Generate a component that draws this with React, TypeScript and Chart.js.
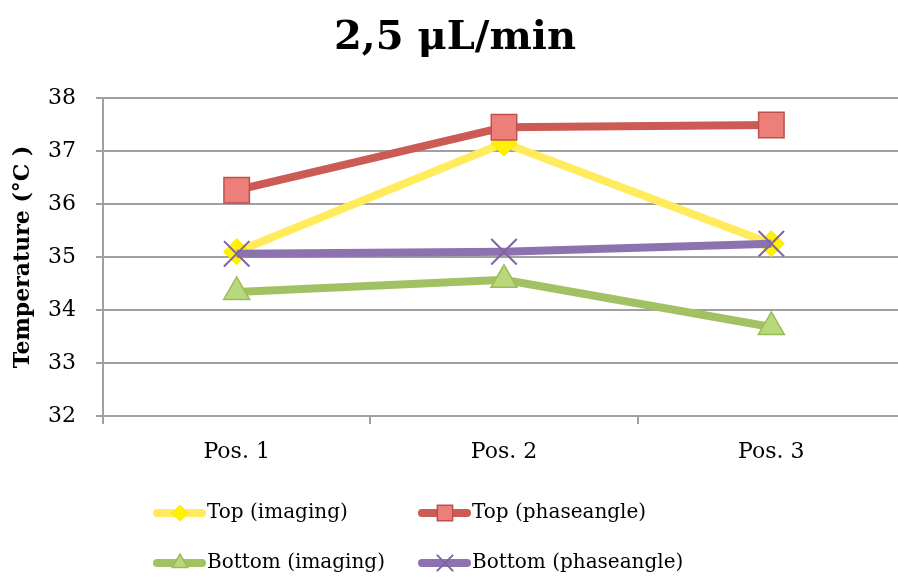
import React, { useEffect, useRef } from "react";
import { Chart, registerables } from "chart.js";
import { drawPoint } from "chart.js/helpers";

Chart.register(...registerables);

const chartTitle = "2,5 μL/min";
const yAxisTitle = "Temperature (°C )";
const categories = ["Pos. 1", "Pos. 2", "Pos. 3"];
const seriesNames = ["Top (imaging)", "Top (phaseangle)", "Bottom (imaging)", "Bottom (phaseangle)"];
const topImaging = [35.1, 37.15, 35.25];
const topPhaseangle = [36.26, 37.45, 37.49];
const bottomImaging = [34.34, 34.57, 33.68];
const bottomPhaseangle = [35.06, 35.1, 35.25];
const yMin = 32;
const yMax = 38;
const yStep = 1;

const FONT = "'DejaVu Serif', serif";

const titlePlugin = {
  id: "customTitle",
  afterDraw(chart: any) {
    const ctx = chart.ctx;
    ctx.save();
    ctx.font = `bold 40px ${FONT}`;
    ctx.fillStyle = "#000";
    ctx.textAlign = "center";
    ctx.textBaseline = "middle";
    ctx.fillText(chartTitle, 455, 39);
    ctx.restore();
  },
};

const legendPlugin = {
  id: "customLegend",
  afterDraw(chart: any) {
    const ctx = chart.ctx;
    const cols = [153, 418];
    const rows = [513, 563];
    chart.data.datasets.forEach((ds: any, i: number) => {
      const x = cols[i % 2];
      const y = rows[Math.floor(i / 2)];
      ctx.save();
      ctx.strokeStyle = ds.borderColor;
      ctx.lineWidth = 8;
      ctx.lineCap = "round";
      ctx.beginPath();
      ctx.moveTo(x + 4, y);
      ctx.lineTo(x + 49, y);
      ctx.stroke();
      ctx.fillStyle = ds.pointBackgroundColor;
      ctx.strokeStyle = ds.pointBorderColor;
      ctx.lineWidth = ds.pointBorderWidth;
      drawPoint(ctx, { pointStyle: ds.pointStyle, rotation: 0, radius: ds.pointRadius * 0.6, borderWidth: ds.pointBorderWidth }, x + 27, y);
      ctx.font = `20px ${FONT}`;
      ctx.fillStyle = "#000";
      ctx.textAlign = "left";
      ctx.textBaseline = "middle";
      ctx.fillText(ds.label, x + 54, y);
      ctx.restore();
    });
  },
};

export default function App() {
  const ref = useRef<HTMLCanvasElement | null>(null);
  useEffect(() => {
    if (!ref.current) return;
    const chart = new Chart(ref.current, {
      type: "line",
      data: {
        labels: categories,
        datasets: [
          {
            label: seriesNames[0],
            data: topImaging,
            borderColor: "#FFEB5C",
            borderWidth: 8,
            pointStyle: "rectRot",
            pointRadius: 13,
            pointBackgroundColor: "#FFF200",
            pointBorderColor: "#F5E600",
            pointBorderWidth: 1,
            order: 4,
          },
          {
            label: seriesNames[1],
            data: topPhaseangle,
            borderColor: "#CC5B55",
            borderWidth: 8,
            pointStyle: "rect",
            pointRadius: 18,
            pointBackgroundColor: "#EC7F7A",
            pointBorderColor: "#C0504D",
            pointBorderWidth: 1.5,
            order: 3,
          },
          {
            label: seriesNames[2],
            data: bottomImaging,
            borderColor: "#A2C162",
            borderWidth: 8,
            pointStyle: "triangle",
            pointRadius: 15,
            pointBackgroundColor: "#B7D97C",
            pointBorderColor: "#9BBB59",
            pointBorderWidth: 1.5,
            order: 2,
          },
          {
            label: seriesNames[3],
            data: bottomPhaseangle,
            borderColor: "#8D72B0",
            borderWidth: 8,
            pointStyle: "crossRot",
            pointRadius: 18,
            pointBackgroundColor: "#8064A2",
            pointBorderColor: "#8064A2",
            pointBorderWidth: 2,
            order: 1,
          },
        ],
      },
      options: {
        responsive: false,
        animation: false,
        layout: { padding: { left: 0, right: 6, top: 98, bottom: 0 } },
        plugins: {
          legend: { display: false },
          title: { display: false },
          tooltip: { enabled: false },
        },
        scales: {
          x: {
            offset: true,
            grid: {
              display: true,
              drawOnChartArea: false,
              drawTicks: true,
              tickLength: 8,
              color: "#A0A0A0",
              lineWidth: 2,
              offset: true,
            },
            border: { display: false },
            ticks: {
              font: { family: FONT, size: 22 },
              color: "#000",
              padding: 15,
            },
            afterFit(scale: any) {
              scale.height = 165;
              scale.paddingLeft = 0;
              scale.paddingRight = 0;
            },
          },
          y: {
            min: yMin,
            max: yMax,
            grid: {
              color: "#A0A0A0",
              lineWidth: 2,
              tickLength: 7,
            },
            border: { display: true, color: "#A0A0A0", width: 2 },
            ticks: {
              stepSize: yStep,
              font: { family: FONT, size: 22 },
              color: "#000",
              padding: 20,
            },
            title: {
              display: true,
              text: yAxisTitle,
              font: { family: FONT, size: 22, weight: "bold" },
              color: "#000",
              padding: { top: 10, bottom: 0 },
            },
            afterFit(scale: any) {
              scale.width = 103;
            },
          },
        },
      },
      plugins: [titlePlugin, legendPlugin],
    } as any);
    return () => chart.destroy();
  }, []);
  return (
    <div style={{ position: "absolute", left: 0, top: 0, width: 898, height: 581, overflow: "hidden", background: "#fff" }}>
      <canvas ref={ref} width={925} height={581} style={{ display: "block" }} />
    </div>
  );
}
